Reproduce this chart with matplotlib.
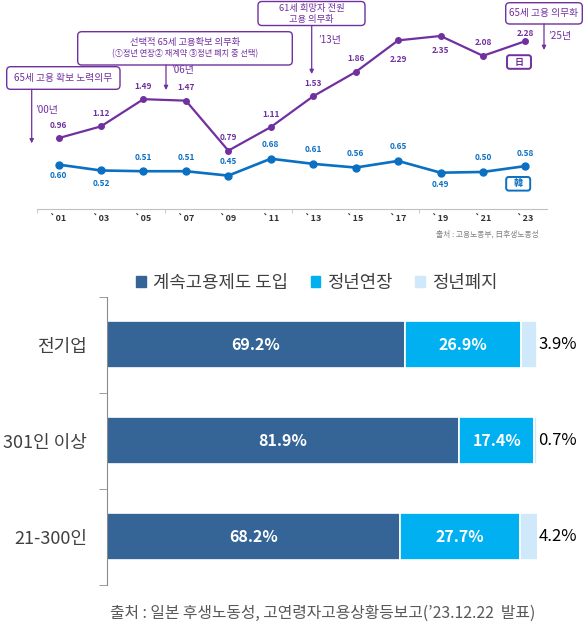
import numpy as np
import matplotlib
matplotlib.use('Agg')
import matplotlib.pyplot as plt
from matplotlib.patches import FancyBboxPatch, Patch

plt.rcParams['font.family'] = ['Noto Sans CJK KR', 'DejaVu Sans']

#%% Data
years = ['`01', '`03', '`05', '`07', '`09', '`11', '`13', '`15', '`17', '`19', '`21', '`23']
japan = [0.96, 1.12, 1.49, 1.47, 0.79, 1.11, 1.53, 1.86, 2.29, 2.35, 2.08, 2.28]
korea = [0.60, 0.52, 0.51, 0.51, 0.45, 0.68, 0.61, 0.56, 0.65, 0.49, 0.50, 0.58]

groups = ['전기업', '301인 이상', '21-300인']
continued = [69.2, 81.9, 68.2]
extended = [26.9, 17.4, 27.7]
abolished = [3.9, 0.7, 4.2]
legend_labels = ['계속고용제도 도입', '정년연장', '정년폐지']

#%% Styles
purple = '#7030a0'
blue = '#0b6fc2'
bar_colors = ['#356597', '#00b0f0', '#cfe9fb']
# label offsets in pixels (positive = up)
jp_dy = [13, 13, 13, 13, 13, 13, 13, 13, -19, -15, 13, 8]
kr_dy = [-11, -13, 14, 14, 14, 14, 14, 14, 14, -12, 14, 13]

W, H = 584, 625
fig = plt.figure(figsize=(W / 100, H / 100), dpi=100)

#%% Top line chart
x0_px, step_px = 58.5, 42.45
base_px, unit_px = 208.7, 73.5
ax1 = fig.add_axes([0, 1 - base_px / H, 1, base_px / H])
ax1.set_xlim(-x0_px / step_px, (W - x0_px) / step_px)
ax1.set_ylim(0, base_px / unit_px)
xs = np.arange(len(years))

ax1.plot(xs, japan, color=purple, lw=1.6, marker='o', ms=4, clip_on=False, zorder=3)
ax1.plot(xs, korea, color=blue, lw=1.9, marker='o', ms=5, clip_on=False, zorder=3)

for i, v in enumerate(japan):
    ax1.annotate(f'{v:.2f}', (i, v), xytext=(0, jp_dy[i]), textcoords='offset pixels',
                 ha='center', va='center', fontsize=6, fontweight='bold', color=purple)
for i, v in enumerate(korea):
    ax1.annotate(f'{v:.2f}', (i, v), xytext=(0, kr_dy[i]), textcoords='offset pixels',
                 ha='center', va='center', fontsize=6, fontweight='bold', color=blue)

for s in ['left', 'top', 'right']:
    ax1.spines[s].set_visible(False)
ax1.spines['bottom'].set_color('#c0c0c0')
ax1.spines['bottom'].set_bounds(-0.5, 11.5)
ax1.set_yticks([])
ax1.set_xticks(xs)
ax1.set_xticklabels(years, fontsize=6.5, fontweight='bold', color='#333333')
ax1.tick_params(axis='x', which='major', length=0, pad=4)
ax1.set_xticks([-0.5, 2.5, 5.5, 8.5], minor=True)
ax1.tick_params(axis='x', which='minor', length=3, color='#c0c0c0', direction='out')

fig.text(539 / W, 1 - 234 / H, '출처 : 고용노동부, 日후생노동성', ha='right', va='center',
         fontsize=5.6, color='#808080')

#%% Annotation overlay (pixel coords)
ov = fig.add_axes([0, 0, 1, 1])
ov.set_xlim(0, W)
ov.set_ylim(H, 0)
ov.axis('off')

boxes = [
    dict(xy=(6.7, 66.7), w=113.3, h=22.6, lines=[('65세 고용 확보 노력의무', 78, 7)]),
    dict(xy=(77.7, 31.7), w=214.6, h=33.3,
         lines=[('선택적 65세 고용확보 의무화', 42.5, 6.7),
                ('(①정년 연장② 재계약 ③정년 폐지 중 선택)', 53.5, 5.9)]),
    dict(xy=(258, 1.5), w=107, h=24, lines=[('61세 희망자 전원', 8, 6.7), ('고용 의무화', 19.5, 6.7)]),
    dict(xy=(505.7, 2.7), w=76.6, h=21.3, lines=[('65세 고용 의무화', 13.3, 7)]),
]
for b in boxes:
    ov.add_patch(FancyBboxPatch(b['xy'], b['w'], b['h'], boxstyle='round,pad=0,rounding_size=4',
                                fc='white', ec=purple, lw=1.0))
    cx = b['xy'][0] + b['w'] / 2
    for txt, y, fs in b['lines']:
        ov.text(cx, y, txt, ha='center', va='center', fontsize=fs, color=purple)

arrows = [(31.7, 89.3, 143.3, '’00년', 35, 110),
          (166, 65, 90, '’06년', 171.7, 70),
          (311.7, 25.5, 74, '’13년', 318.3, 40),
          (544, 24, 50, '’25년', 548.3, 36)]
for x, y0, y1, lbl, tx, ty in arrows:
    ov.annotate('', xy=(x, y1), xytext=(x, y0),
                arrowprops=dict(arrowstyle='-|>', color=purple, lw=0.9, mutation_scale=6,
                                shrinkA=0, shrinkB=0))
    ov.text(tx, ty, lbl, ha='left', va='center', fontsize=7.2, color=purple)

for lbl, cx, cy, c in [('日', 519, 62, purple), ('韓', 518.2, 183.8, blue)]:
    ov.add_patch(FancyBboxPatch((cx - 12, cy - 6.8), 24, 13.6, boxstyle='round,pad=0,rounding_size=2.5',
                                fc='white', ec=c, lw=1.4))
    ov.text(cx, cy, lbl, ha='center', va='center', fontsize=6.5, fontweight='bold', color=c)

#%% Bottom stacked bar chart
ax2 = fig.add_axes([106.7 / W, 1 - 584.7 / H, 430.6 / W, 288 / H])
ax2.set_xlim(0, 100)
ax2.set_ylim(2.5, -0.5)
ys = np.arange(len(groups))
left = np.zeros(len(groups))
for vals, c in zip([continued, extended, abolished], bar_colors):
    ax2.barh(ys, vals, left=left, height=0.486, color=c, edgecolor='white', lw=1.2)
    left += np.array(vals)

for i in range(len(groups)):
    ax2.text(continued[i] / 2, i, f'{continued[i]}%', ha='center', va='center',
             fontsize=11.5, fontweight='bold', color='white')
    ax2.text(continued[i] + extended[i] / 2, i, f'{extended[i]}%', ha='center', va='center',
             fontsize=11.5, fontweight='bold', color='white')
    ax2.annotate(f'{abolished[i]}%', (100, i), xytext=(1, 0), textcoords='offset pixels',
                 ha='left', va='center', fontsize=12, color='black', annotation_clip=False)

for s in ['top', 'right', 'bottom']:
    ax2.spines[s].set_visible(False)
ax2.spines['left'].set_color('#8c8c8c')
ax2.set_xticks([])
ax2.set_yticks(ys)
ax2.set_yticklabels(groups, fontsize=13, color='#404040')
ax2.tick_params(axis='y', which='major', length=0, pad=14)
ax2.set_yticks([-0.5, 0.5, 1.5, 2.5], minor=True)
ax2.tick_params(axis='y', which='minor', length=6, color='#8c8c8c', direction='out')

handles = [Patch(color=c) for c in bar_colors]
fig.legend(handles, legend_labels, loc='center', bbox_to_anchor=(317 / W, 1 - 283 / H), ncol=3,
           frameon=False, fontsize=12.8, handlelength=0.55, handleheight=0.55,
           handletextpad=0.4, columnspacing=1.25, labelcolor='#404040')

fig.text(322.5 / W, 1 - 613 / H, '출처 : 일본 후생노동성, 고연령자고용상황등보고(’23.12.22  발표)',
         ha='center', va='center', fontsize=11.4, color='#595959')

fig.savefig('out.png', dpi=100)
